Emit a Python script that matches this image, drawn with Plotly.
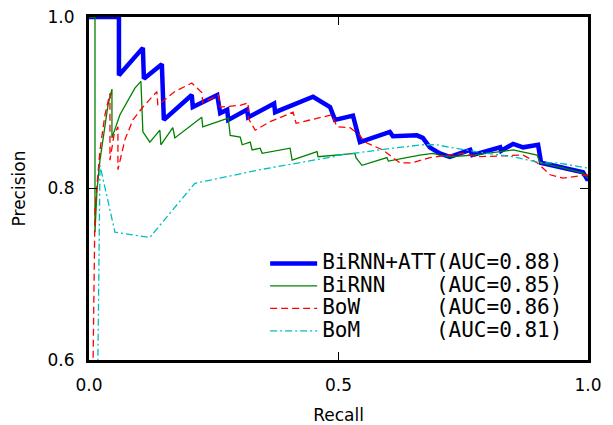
import plotly.graph_objects as go

# BiRNN+ATT
att_r = [0.000, 0.060, 0.060, 0.108, 0.110, 0.146, 0.150, 0.206, 0.208, 0.257, 0.263, 0.277, 0.279,
         0.317, 0.319, 0.371, 0.373, 0.449, 0.483, 0.487, 0.493, 0.529, 0.537, 0.543, 0.603, 0.609,
         0.657, 0.669, 0.683, 0.703, 0.723, 0.764, 0.768, 0.824, 0.826, 0.850, 0.870, 0.900, 0.906,
         0.950, 0.990, 0.998, 1.000]
att_p = [1.000, 1.000, 0.932, 0.964, 0.928, 0.945, 0.880, 0.909, 0.895, 0.909, 0.888, 0.892, 0.880,
         0.892, 0.883, 0.899, 0.889, 0.907, 0.895, 0.888, 0.880, 0.885, 0.866, 0.854, 0.866, 0.861,
         0.862, 0.859, 0.848, 0.841, 0.837, 0.845, 0.839, 0.848, 0.844, 0.852, 0.848, 0.851, 0.830,
         0.824, 0.819, 0.811, 0.811]

# BiRNN
rnn_r = [0.000, 0.012, 0.012, 0.016, 0.022, 0.030, 0.038, 0.046, 0.046, 0.062, 0.078, 0.092, 0.104,
         0.108, 0.122, 0.142, 0.144, 0.168, 0.172, 0.226, 0.228, 0.279, 0.283, 0.303, 0.307, 0.323,
         0.327, 0.343, 0.347, 0.403, 0.407, 0.457, 0.459, 0.533, 0.535, 0.547, 0.597, 0.600, 0.663,
         0.689, 0.703, 0.723, 0.770, 0.798, 0.850, 0.898, 0.904, 0.950, 0.990, 1.000]
rnn_p = [1.000, 1.000, 0.749, 0.798, 0.833, 0.868, 0.897, 0.916, 0.859, 0.886, 0.903, 0.917, 0.925,
         0.866, 0.854, 0.868, 0.851, 0.871, 0.859, 0.883, 0.872, 0.882, 0.862, 0.860, 0.851, 0.854,
         0.845, 0.847, 0.841, 0.847, 0.833, 0.843, 0.837, 0.841, 0.836, 0.827, 0.836, 0.832, 0.839,
         0.841, 0.839, 0.837, 0.839, 0.841, 0.845, 0.839, 0.830, 0.824, 0.818, 0.812]

# BoW
bow_r = [0.006, 0.012, 0.022, 0.032, 0.042, 0.042, 0.050, 0.058, 0.058, 0.072, 0.088, 0.108, 0.136,
         0.138, 0.172, 0.206, 0.226, 0.228, 0.259, 0.263, 0.303, 0.319, 0.319, 0.333, 0.363, 0.409,
         0.415, 0.487, 0.497, 0.523, 0.543, 0.549, 0.557, 0.589, 0.609, 0.623, 0.647, 0.683, 0.750,
         0.778, 0.870, 0.898, 0.924, 0.950, 0.998, 1.000]
bow_p = [0.500, 0.775, 0.845, 0.886, 0.911, 0.833, 0.862, 0.872, 0.822, 0.857, 0.880, 0.895, 0.913,
         0.897, 0.913, 0.923, 0.912, 0.900, 0.909, 0.895, 0.897, 0.900, 0.882, 0.868, 0.878, 0.889,
         0.876, 0.886, 0.872, 0.871, 0.862, 0.857, 0.853, 0.845, 0.836, 0.830, 0.830, 0.836, 0.841,
         0.837, 0.839, 0.830, 0.816, 0.812, 0.816, 0.815]

# BoM
bom_r = [0.016, 0.022, 0.052, 0.122, 0.212, 0.313, 0.343, 0.489, 0.503, 0.609, 0.669, 0.697, 0.723,
         0.798, 0.850, 0.904, 0.938, 0.998, 1.000]
bom_p = [0.500, 0.827, 0.749, 0.743, 0.806, 0.818, 0.822, 0.837, 0.839, 0.847, 0.851, 0.851, 0.848,
         0.841, 0.837, 0.830, 0.830, 0.824, 0.824]

names = ["BiRNN+ATT(AUC=0.88)",
         "BiRNN\u00a0\u00a0\u00a0\u00a0(AUC=0.85)",
         "BoW\u00a0\u00a0\u00a0\u00a0\u00a0\u00a0(AUC=0.86)",
         "BoM\u00a0\u00a0\u00a0\u00a0\u00a0\u00a0(AUC=0.81)"]

x_ticks = [0.0, 0.5, 1.0]
x_labels = ["0.0", "0.5", "1.0"]
y_ticks = [0.6, 0.8, 1.0]
y_labels = ["0.6", "0.8", "1.0"]


def big(s):
    return '<span style="font-size:21px">' + s + '</span>'


fig = go.Figure()
fig.add_trace(go.Scatter(x=att_r, y=att_p, mode="lines", name=big(names[0]),
                         line=dict(color="#0000ff", width=4.5)))
fig.add_trace(go.Scatter(x=rnn_r, y=rnn_p, mode="lines", name=big(names[1]),
                         line=dict(color="#008000", width=1.3)))
fig.add_trace(go.Scatter(x=bow_r, y=bow_p, mode="lines", name=big(names[2]),
                         line=dict(color="#ff0000", width=1.3, dash="7px,4px")))
fig.add_trace(go.Scatter(x=bom_r, y=bom_p, mode="lines", name=big(names[3]),
                         line=dict(color="#00bfbf", width=1.3, dash="7px,3px,2px,3px")))

axis_common = dict(showgrid=False, zeroline=False, showline=True, linecolor="black",
                   linewidth=3, mirror="ticks", ticks="inside", ticklen=8, tickwidth=1,
                   tickcolor="black", automargin=False,
                   tickfont=dict(family="DejaVu Sans", size=17, color="black"))

fig.update_xaxes(range=[0, 1], tickvals=x_ticks, ticktext=x_labels, ticklabelstandoff=8,
                 title=dict(text="Recall", font=dict(family="DejaVu Sans", size=17, color="black"),
                            standoff=19),
                 **axis_common)
fig.update_yaxes(range=[0.6, 1.0], tickvals=y_ticks, ticktext=y_labels, ticklabelstandoff=8,
                 title=dict(text="Precision", font=dict(family="DejaVu Sans", size=17, color="black"),
                            standoff=18),
                 **axis_common)

fig.update_layout(
    width=613, height=425,
    margin=dict(l=89, r=25, t=17, b=65),
    plot_bgcolor="white", paper_bgcolor="white",
    showlegend=True,
    legend=dict(x=0.353, y=0.329, xanchor="left", yanchor="top",
                bgcolor="rgba(0,0,0,0)", borderwidth=0, itemwidth=47,
                font=dict(family="DejaVu Sans Mono", size=15, color="black"),
                tracegroupgap=0),
)

fig.write_html("out.html", config={"displayModeBar": False},
               post_script="document.body.style.margin='0';")
